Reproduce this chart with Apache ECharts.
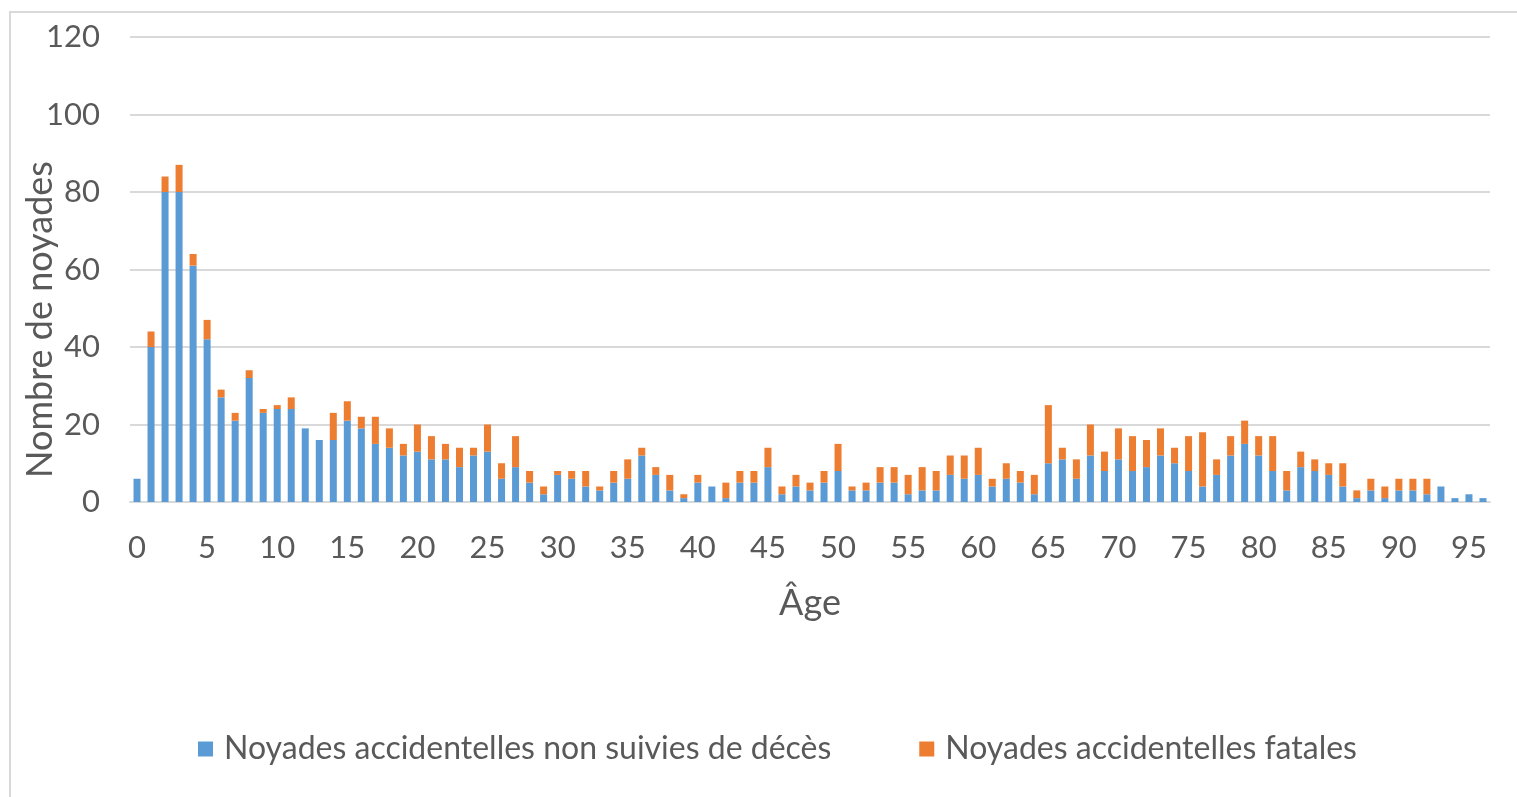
<!DOCTYPE html>
<html>
<head>
<meta charset="utf-8">
<script src="https://cdn.jsdelivr.net/npm/echarts@6/dist/echarts.min.js"></script>
<style>
html,body{margin:0;padding:0;background:#fff;}
#chart{width:1517px;height:797px;}
</style>
</head>
<body>
<div id="chart"></div>
<script>
const ages = Array.from({length: 97}, (_, i) => String(i));
const nonFatal = [6,40,80,80,61,42,27,21,32,23,24,24,19,16,16,21,19,15,14,12,
  13,11,11,9,12,13,6,9,5,2,7,6,4,3,5,6,12,7,3,1,
  5,4,1,5,5,9,2,4,3,5,8,3,3,5,5,2,3,3,7,6,
  7,4,6,5,2,10,11,6,12,8,11,8,9,12,10,8,4,7,12,15,
  12,8,3,9,8,7,4,1,3,1,3,3,2,4,1,2,1];
const fatal = [0,4,4,7,3,5,2,2,2,1,1,3,0,0,7,5,3,7,5,3,
  7,6,4,5,2,7,4,8,3,2,1,2,4,1,3,5,2,2,4,1,
  2,0,4,3,3,5,2,3,2,3,7,1,2,4,4,5,6,5,5,6,
  7,2,4,3,5,15,3,5,8,5,8,9,7,7,4,9,14,4,5,6,
  5,9,5,4,3,3,6,2,3,3,3,3,4,0,0,0,0];
const seriesNames = ['Noyades accidentelles non suivies de décès', 'Noyades accidentelles fatales'];
const yTicks = [0, 20, 40, 60, 80, 100, 120];

const font = 'Lato, "Open Sans", sans-serif';
const txt = '#595959';
const chart = echarts.init(document.getElementById('chart'));
chart.setOption({
  animation: false,
  textStyle: {fontFamily: font},
  graphic: [{
    type: 'rect', shape: {x: 10, y: 12, width: 1600, height: 900},
    style: {fill: 'none', stroke: '#d9d9d9', lineWidth: 2}, silent: true
  }],
  grid: {left: 130, right: 27, top: 37, bottom: 295, outerBoundsMode: 'none', containLabel: false},
  legend: {
    data: seriesNames, left: 193, top: 728, itemWidth: 15, itemHeight: 15, itemGap: 88,
    icon: 'rect', textStyle: {fontFamily: font, fontSize: 32, color: txt, padding: [0, 0, 0, 6]}
  },
  xAxis: {
    type: 'category', data: ages,
    name: 'Âge', nameLocation: 'middle', nameGap: 83,
    nameTextStyle: {fontFamily: font, fontSize: 36, color: txt},
    axisLine: {lineStyle: {color: '#d9d9d9', width: 2}},
    axisTick: {show: false},
    axisLabel: {interval: 4, fontSize: 31, color: txt, margin: 30, fontFamily: font}
  },
  yAxis: {
    type: 'value', min: yTicks[0], max: yTicks[yTicks.length - 1], interval: 20,
    name: 'Nombre de noyades', nameLocation: 'middle', nameGap: 72, nameMoveOverlap: false,
    nameTextStyle: {fontFamily: font, fontSize: 36, color: txt, padding: [0, 100, 0, 0]},
    axisLine: {show: false}, axisTick: {show: false},
    axisLabel: {fontSize: 31, color: txt, margin: 30, fontFamily: font},
    splitLine: {lineStyle: {color: '#d9d9d9', width: 2}}
  },
  series: [
    {name: seriesNames[0], type: 'bar', stack: 'a', data: nonFatal, barWidth: '50%',
     itemStyle: {color: '#5B9BD5'}},
    {name: seriesNames[1], type: 'bar', stack: 'a', data: fatal, barWidth: '50%',
     itemStyle: {color: '#ED7D31'}}
  ]
});
</script>
</body>
</html>
